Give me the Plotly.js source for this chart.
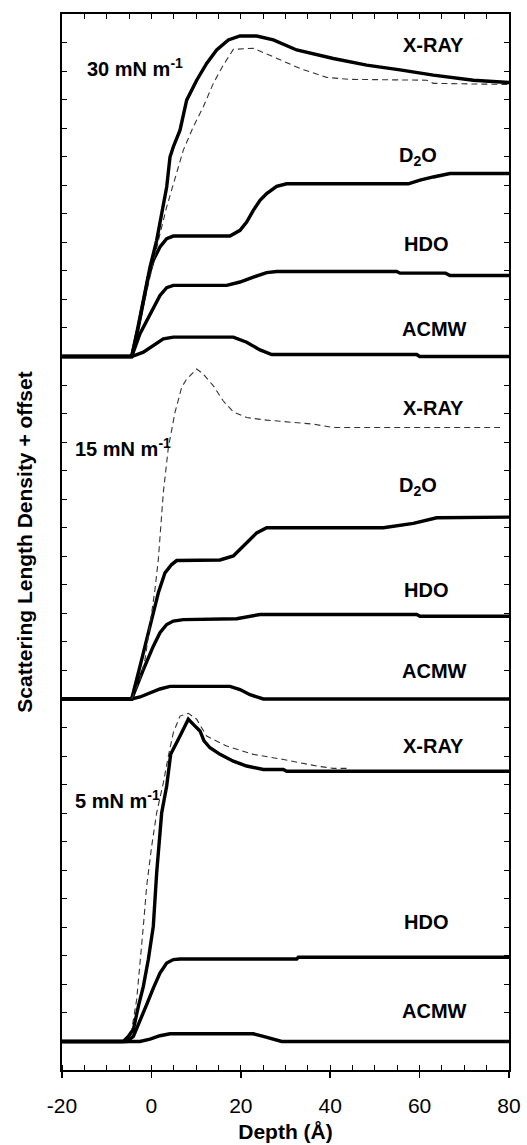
<!DOCTYPE html>
<html>
<head>
<meta charset="utf-8">
<script src="https://cdn.plot.ly/plotly-3.0.1.min.js"></script>
<style>html,body{margin:0;padding:0;background:#fff;}#chart{width:527px;height:1145px;}</style>
</head>
<body>
<div id="chart"></div>
<script>
// Panel offsets (vertical shift per surface pressure)
const offsets = {p30: 24, p15: 12, p5: 0};
const panelLabels = ["30 mN m<sup>-1</sup>", "15 mN m<sup>-1</sup>", "5 mN m<sup>-1</sup>"];
const xTickVals = [-20, 0, 20, 40, 60, 80];
const xTickText = ["-20", "0", "20", "40", "60", "80"];

// ---- 30 mN/m ----
const acmw30_x = [-20, -4.41, -1.80, 0.43, 2.67, 4.91, 18.33, 21.31, 24.30, 26.91, 59.34, 60.0, 80];
const acmw30_y = [0, 0, 0.15, 0.39, 0.62, 0.68, 0.68, 0.50, 0.23, 0.07, 0.07, 0, 0];
const hdo30_x = [-20, -4.41, -2.55, -1.06, 0.43, 1.92, 3.42, 4.91, 16.84, 19.82, 22.80, 25.79, 28.02, 54.87, 55.62, 65.8, 66.80, 80];
const hdo30_y = [0, 0, 0.80, 1.26, 1.73, 2.14, 2.41, 2.49, 2.49, 2.61, 2.78, 2.94, 2.98, 2.98, 2.92, 2.92, 2.84, 2.84];
const d2o30_x = [-20, -4.41, -2.92, -1.80, -0.69, 0.43, 1.92, 3.42, 4.91, 17.58, 19.82, 21.31, 22.80, 24.30, 25.79, 28.02, 30.26, 57.48, 60.09, 63.07, 66.80, 80];
const d2o30_y = [0, 0, 1.03, 1.96, 2.78, 3.37, 3.84, 4.13, 4.22, 4.22, 4.42, 4.71, 5.12, 5.47, 5.71, 5.96, 6.05, 6.05, 6.18, 6.29, 6.41, 6.41];
const xray30_x = [-20, -4.41, -3.30, -1.80, -0.31, 1.18, 2.30, 3.42, 4.16, 4.91, 6.40, 7.89, 10.13, 12.36, 14.60, 17.21, 19.82, 23.55, 27.28, 32.50, 40.70, 48.16, 55.62, 63.07, 72.02, 80];
const xray30_y = [0, 0, 0.80, 1.96, 3.13, 4.07, 5.01, 5.94, 6.99, 7.35, 7.93, 8.98, 9.68, 10.27, 10.74, 11.09, 11.23, 11.23, 11.09, 10.74, 10.44, 10.21, 10.04, 9.86, 9.68, 9.60];
const xrayFit30_x = [-4.41, -2.55, -1.06, 0.43, 1.92, 3.42, 4.91, 7.14, 9.38, 11.62, 13.86, 16.09, 18.33, 22.80, 27.28, 33.24, 39.21, 44.43, 61.58, 63.07, 80];
const xrayFit30_y = [0, 1.26, 2.32, 3.25, 4.30, 5.24, 6.06, 7.23, 8.05, 8.75, 9.57, 10.21, 10.76, 10.80, 10.50, 10.09, 9.78, 9.71, 9.68, 9.57, 9.53];

// ---- 15 mN/m ----
const acmw15_x = [-20, -4.41, -2.55, -0.31, 1.92, 4.16, 17.58, 19.82, 22.06, 25.04, 80];
const acmw15_y = [0, 0, 0.07, 0.21, 0.35, 0.44, 0.44, 0.33, 0.15, 0, 0];
const hdo15_x = [-20, -4.41, -1.80, 0.43, 1.92, 3.42, 4.91, 7.14, 19.08, 22.06, 24.30, 59.34, 60.09, 80];
const hdo15_y = [0, 0, 1.03, 1.85, 2.32, 2.61, 2.73, 2.78, 2.81, 2.90, 2.96, 2.96, 2.90, 2.90];
const d2o15_x = [-20, -4.41, -2.18, -0.31, 1.55, 3.04, 4.53, 5.65, 15.35, 18.33, 21.31, 23.55, 25.79, 51.89, 58.60, 63.82, 80];
const d2o15_y = [0, 0, 1.38, 2.55, 3.72, 4.42, 4.71, 4.85, 4.87, 5.01, 5.47, 5.82, 6.00, 6.00, 6.15, 6.35, 6.37];
const xrayFit15_x = [-4.41, -2.55, -1.43, -0.31, 0.80, 1.55, 2.67, 3.79, 5.28, 6.77, 7.89, 10.13, 11.62, 13.86, 16.09, 18.33, 21.31, 25.79, 31.75, 36.23, 40.70, 77.99];
const xrayFit15_y = [0, 0.68, 1.38, 2.55, 3.84, 4.89, 7.23, 8.81, 10.04, 10.92, 11.21, 11.56, 11.38, 10.97, 10.44, 10.06, 9.86, 9.77, 9.68, 9.63, 9.51, 9.51];

// ---- 5 mN/m ----
const acmw5_x = [-20, -6.28, -2.55, -0.31, 1.92, 4.16, 22.80, 25.04, 27.28, 29.14, 80];
const acmw5_y = [0, 0, 0, 0.08, 0.20, 0.27, 0.27, 0.18, 0.08, 0, 0];
const hdo5_x = [-20, -5.53, -4.04, -2.55, -1.06, 0.43, 1.92, 3.42, 4.91, 6.40, 32.50, 32.87, 80];
const hdo5_y = [0, 0, 0.18, 0.70, 1.29, 1.87, 2.40, 2.75, 2.87, 2.89, 2.89, 2.95, 2.95];
const xray5_x = [-20, -6.28, -5.16, -4.04, -2.92, -1.80, -0.69, 0.43, 1.18, 1.77, 2.30, 3.42, 4.31, 6.40, 8.26, 9.38, 10.87, 11.77, 13.11, 15.35, 18.33, 21.31, 25.04, 29.52, 30.26, 80];
const xray5_y = [0, 0, 0.18, 0.41, 1.23, 1.93, 2.87, 4.04, 5.91, 7.08, 8.01, 8.95, 10.06, 10.70, 11.29, 11.11, 10.88, 10.53, 10.29, 10.06, 9.82, 9.65, 9.53, 9.53, 9.47, 9.47];
const xrayFit5_x = [-6.28, -4.41, -3.30, -2.55, -1.80, -1.06, 0.06, 1.18, 2.67, 3.79, 4.91, 6.40, 8.26, 10.13, 12.36, 16.84, 22.80, 29.52, 36.97, 40.70, 44.06];
const xrayFit5_y = [0, 0.41, 1.46, 2.63, 4.04, 5.44, 6.84, 8.01, 9.06, 10.00, 10.82, 11.40, 11.50, 11.29, 10.70, 10.35, 10.06, 9.88, 9.65, 9.57, 9.57];

const FONT = "Liberation Sans, Arial, Helvetica, sans-serif";

function shift(arr, off) { return arr.map(v => v + off); }
function solid(x, y, off, name) {
  return {x: x, y: shift(y, off), type: 'scatter', mode: 'lines', name: name,
          line: {color: '#000', width: 3.4}, hoverinfo: 'skip'};
}
function dashed(x, y, off, name) {
  return {x: x, y: shift(y, off), type: 'scatter', mode: 'lines', name: name,
          line: {color: '#333', width: 1.1, dash: '6px,4px'}, hoverinfo: 'skip'};
}

const traces = [
  solid(acmw30_x, acmw30_y, offsets.p30, 'ACMW 30'),
  solid(hdo30_x, hdo30_y, offsets.p30, 'HDO 30'),
  solid(d2o30_x, d2o30_y, offsets.p30, 'D2O 30'),
  dashed(xrayFit30_x, xrayFit30_y, offsets.p30, 'X-RAY fit 30'),
  solid(xray30_x, xray30_y, offsets.p30, 'X-RAY 30'),
  solid(acmw15_x, acmw15_y, offsets.p15, 'ACMW 15'),
  solid(hdo15_x, hdo15_y, offsets.p15, 'HDO 15'),
  solid(d2o15_x, d2o15_y, offsets.p15, 'D2O 15'),
  dashed(xrayFit15_x, xrayFit15_y, offsets.p15, 'X-RAY fit 15'),
  solid(acmw5_x, acmw5_y, offsets.p5, 'ACMW 5'),
  solid(hdo5_x, hdo5_y, offsets.p5, 'HDO 5'),
  dashed(xrayFit5_x, xrayFit5_y, offsets.p5, 'X-RAY fit 5'),
  solid(xray5_x, xray5_y, offsets.p5, 'X-RAY 5'),
  {x: [-20, 80], y: [null, null], xaxis: 'x2', yaxis: 'y', type: 'scatter', mode: 'lines', showlegend: false, hoverinfo: 'skip'}
];

// label positions per panel (relative heights within panel)
const seriesLabels = ["X-RAY", "D<sub>2</sub>O", "HDO", "ACMW"];
const lab30 = {x: [63.0, 59.6, 61.4, 63.4], y: [10.93, 7.0, 3.93, 0.95]};
const lab15 = {x: [63.0, 59.6, 61.4, 63.4], y: [10.2, 7.45, 3.83, 0.97]};
const lab5  = {labels: ["X-RAY", "HDO", "ACMW"], x: [63.0, 61.4, 63.4], y: [10.36, 4.2, 1.05]};

const annFont = {family: FONT, size: 20, color: '#000'};
const annotations = [];
seriesLabels.forEach((t, i) => annotations.push({x: lab30.x[i], y: lab30.y[i] + offsets.p30, text: '<b>' + t + '</b>', showarrow: false, font: annFont, xanchor: 'center', yanchor: 'middle'}));
seriesLabels.forEach((t, i) => annotations.push({x: lab15.x[i], y: lab15.y[i] + offsets.p15, text: '<b>' + t + '</b>', showarrow: false, font: annFont, xanchor: 'center', yanchor: 'middle'}));
lab5.labels.forEach((t, i) => annotations.push({x: lab5.x[i], y: lab5.y[i] + offsets.p5, text: '<b>' + t + '</b>', showarrow: false, font: annFont, xanchor: 'center', yanchor: 'middle'}));
const panelLabelPos = {x: [-14.85, -17.6, -17.6], y: [10.13 + offsets.p30, 8.8 + offsets.p15, 8.47 + offsets.p5]};
panelLabels.forEach((t, i) => annotations.push({x: panelLabelPos.x[i], y: panelLabelPos.y[i], text: '<b>' + t + '</b>', showarrow: false, font: annFont, xanchor: 'left', yanchor: 'middle'}));

const layout = {
  width: 527, height: 1145,
  margin: {l: 62, r: 18, t: 14, b: 75, pad: 0},
  paper_bgcolor: '#fff', plot_bgcolor: '#fff',
  showlegend: false,
  font: {family: FONT, color: '#000'},
  xaxis: {
    range: [-20, 80], tickmode: 'array', tickvals: xTickVals, ticktext: xTickText,
    ticks: 'outside', ticklen: 6, tickwidth: 1.5, tickcolor: '#000', ticklabelstandoff: 10,
    minor: {ticks: 'inside', dtick: 5, tick0: -20, ticklen: 5, tickwidth: 1, tickcolor: '#000'},
    showline: true, linewidth: 2, linecolor: '#000', showgrid: false, zeroline: false,
    tickfont: {family: FONT, size: 21, color: '#000'},
    title: {text: '<b>Depth (Å)</b>', font: {family: FONT, size: 21, color: '#000'}, standoff: 8}
  },
  xaxis2: {
    overlaying: 'x', side: 'top', range: [-20, 80], tick0: -20, dtick: 5, ticks: 'inside', ticklen: 5, tickwidth: 1,
    tickcolor: '#000', showticklabels: false, showline: true, linewidth: 2, linecolor: '#000', showgrid: false, zeroline: false
  },
  yaxis: {
    range: [-1, 36], tick0: 0, dtick: 1, ticks: 'inside', ticklen: 5, tickwidth: 1, tickcolor: '#000',
    showticklabels: false, showline: true, linewidth: 2, linecolor: '#000', mirror: 'ticks',
    showgrid: false, zeroline: false,
    title: {text: '<b>Scattering Length Density + offset</b>', font: {family: FONT, size: 21, color: '#000'}, standoff: 22}
  },
  annotations: annotations
};

Plotly.newPlot('chart', traces, layout, {displayModeBar: false, staticPlot: true});
</script>
</body>
</html>
